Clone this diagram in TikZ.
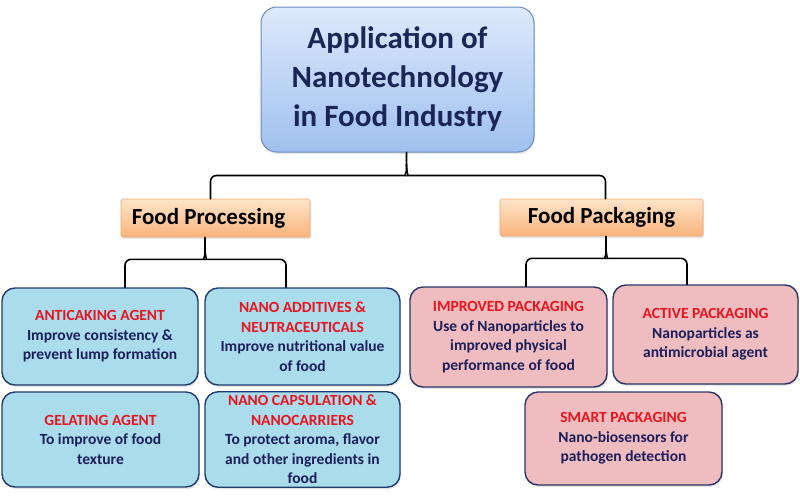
\documentclass[tikz,border=0pt]{standalone}
\usepackage{fontspec}
\setmainfont{Carlito}
\usetikzlibrary{positioning,calc,shadows}
\definecolor{titletop}{HTML}{DDE9FB}
\definecolor{titlebot}{HTML}{9FC0EF}
\definecolor{titleline}{HTML}{6A8AC0}
\definecolor{titletext}{HTML}{1B2657}
\definecolor{orgtop}{HTML}{FEE4CA}
\definecolor{orgbot}{HTML}{F9B37B}
\definecolor{orgline}{HTML}{F2A86C}
\definecolor{bluefill}{HTML}{AADCEC}
\definecolor{blueline}{HTML}{1E3C6C}
\definecolor{pinkfill}{HTML}{EFBCC0}
\definecolor{pinkline}{HTML}{2A3566}
\definecolor{headred}{HTML}{E8141E}
\definecolor{bodytext}{HTML}{1C1F5A}
\newcommand{\hd}[1]{\textcolor{headred}{#1}}

\begin{document}
\begin{tikzpicture}[x=1pt,y=-1pt,line cap=round,
  link/.style={line width=1.6pt,rounded corners=6pt},
  topbox/.style={draw=titleline,line width=1pt,rounded corners=16pt,top color=titletop,bottom color=titlebot,
    text=titletext,align=center,font=\fontsize{31}{39}\selectfont\bfseries,
    drop shadow={opacity=0.2,shadow xshift=1pt,shadow yshift=-2pt}},
  midbox/.style={draw=orgline,line width=0.6pt,rounded corners=1.5pt,top color=orgtop,bottom color=orgbot,
    font=\fontsize{23}{28}\selectfont\bfseries,
    drop shadow={opacity=0.2,shadow xshift=1pt,shadow yshift=-2pt}},
  leaf/.style={line width=1.4pt,rounded corners=13pt,text=bodytext,align=center,
    font=\fontsize{15.5}{19.5}\selectfont\bfseries,
    drop shadow={opacity=0.2,shadow xshift=1pt,shadow yshift=-2pt}},
  procleaf/.style={leaf,draw=blueline,fill=bluefill},
  packleaf/.style={leaf,draw=pinkline,fill=pinkfill}]
\useasboundingbox[fill=white] (0,0) rectangle (800,496);
% root
\node[topbox,minimum width=273pt,minimum height=145pt] (title) at (397.5,79.5)
  {Application of\\Nanotechnology\\in Food Industry};
% branches
\node[midbox,minimum width=189pt,minimum height=38pt] (proc) at (215.5,218) {Food~Processing\kern14pt};
\node[midbox,minimum width=203pt,minimum height=37pt] (pack) at (601.5,217.5) {Food Packaging};
% food processing leaves
\node[procleaf,minimum width=196pt,minimum height=97pt] (anti) at (100,336.5)
  {\hd{ANTICAKING AGENT}\\Improve consistency \&\\prevent lump formation};
\node[procleaf,minimum width=195pt,minimum height=97pt] (addi) at (302.5,336.5)
  {\hd{NANO ADDITIVES \&}\\\hd{NEUTRACEUTICALS}\\Improve nutritional value\\of food};
\node[procleaf,minimum width=197pt,minimum height=95pt] (gel) at (100.5,439.5)
  {\hd{GELATING AGENT}\\To improve of food\\texture};
\node[procleaf,minimum width=195pt,minimum height=95pt] (caps) at (302.5,439.5)
  {\hd{NANO CAPSULATION \&}\\\hd{NANOCARRIERS}\\To protect aroma, flavor\\and other ingredients in\\food};
% food packaging leaves
\node[packleaf,minimum width=197pt,minimum height=100pt] (impr) at (508.5,337)
  {\hd{IMPROVED PACKAGING}\\Use of Nanoparticles to\\improved physical\\performance of food};
\node[packleaf,minimum width=185pt,minimum height=99pt] (actv) at (705.5,334.5)
  {\hd{ACTIVE PACKAGING}\\Nanoparticles as\\antimicrobial agent};
\node[packleaf,minimum width=197pt,minimum height=93pt] (smrt) at (623.5,438.5)
  {\hd{SMART PACKAGING}\\Nano-biosensors for\\pathogen detection};
% braces
\coordinate (tb) at ($(title.south)+(9,0)$);
\draw[link] ($(proc.north)+(-5,0)$) |- ($(tb)+(-7,23)$) .. controls +(5,0) and +(0,8) .. ($(tb)+(0,12)$) -- (tb);
\draw[link] ($(pack.north)+(4,0)$) |- ($(tb)+(7,23)$) .. controls +(-5,0) and +(0,8) .. ($(tb)+(0,12)$);
\coordinate (pb) at ($(proc.south)+(-10.5,0)$);
\draw[link] ($(anti.north)+(25,0)$) |- ($(pb)+(-7,22)$) .. controls +(5,0) and +(0,8) .. ($(pb)+(0,11)$) -- (pb);
\draw[link] ($(addi.north)+(-16.5,0)$) |- ($(pb)+(7,22)$) .. controls +(-5,0) and +(0,8) .. ($(pb)+(0,11)$);
\coordinate (kb) at ($(pack.south)+(4.5,0)$);
\draw[link] ($(impr.north)+(17.5,0)$) |- ($(kb)+(-7,22)$) .. controls +(5,0) and +(0,8) .. ($(kb)+(0,11)$) -- (kb);
\draw[link] ($(actv.north)+(-18.5,0)$) |- ($(kb)+(7,22)$) .. controls +(-5,0) and +(0,8) .. ($(kb)+(0,11)$);
\end{tikzpicture}
\end{document}
